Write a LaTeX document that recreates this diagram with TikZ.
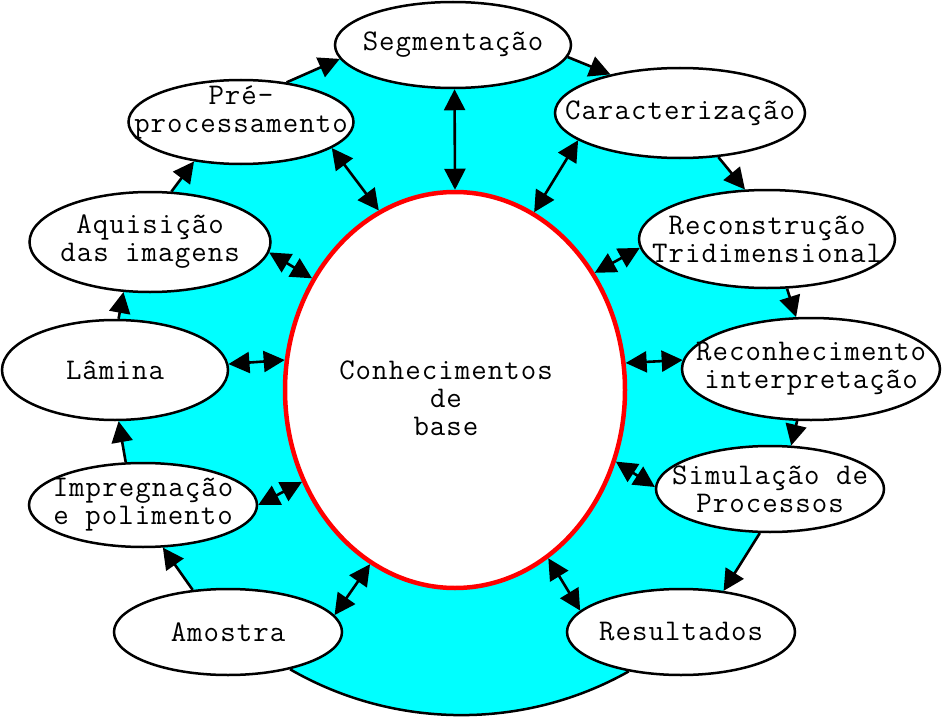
\documentclass[tikz,border=0pt]{standalone}
\usepackage{fontspec}
\newfontfamily\mono[LetterSpace=3.5]{Latin Modern Mono}
\usetikzlibrary{shapes.geometric,arrows.meta,backgrounds}
\definecolor{cyanfill}{RGB}{0,255,255}
\tikzset{
  oval/.style={ellipse, draw=black, line width=2.5pt, fill=white, inner sep=0pt},
  txt/.style={font=\mono\fontsize{30}{28}\selectfont, align=center, inner sep=0pt},
  flow/.style={line width=2.6pt, -{Triangle[length=21pt,width=21pt]}},
  link/.style={line width=2.6pt, {Triangle[length=21pt,width=21pt]}-{Triangle[length=21pt,width=21pt]}},
}
\begin{document}
\begin{tikzpicture}[x=1pt,y=-1pt]
\useasboundingbox (0,0) rectangle (943,717);
% central knowledge node
\node[ellipse, draw=red, fill=white, line width=4.5pt, inner sep=0pt,
      minimum width=340pt, minimum height=396pt] (kb) at (455,390) {};
\node[txt] (kbt) at (446,398) {Conhecimentos\\de\\base};
% outer stages
\node[oval, minimum width=236pt, minimum height=86pt, label={[txt]center:Segmentação}] (seg) at (453,45) {};
\node[oval, minimum width=225pt, minimum height=84pt, label={[txt,yshift=10pt]center:Pré-\\processamento}] (pre) at (241,122) {};
\node[oval, minimum width=241pt, minimum height=100pt, label={[txt]center:Aquisição\\das imagens}] (aqu) at (150,242) {};
\node[oval, minimum width=226pt, minimum height=100pt, label={[txt]center:Lâmina}] (lam) at (115,370) {};
\node[oval, minimum width=228pt, minimum height=84pt, label={[txt]center:Impregnação\\e polimento}] (imp) at (143,505) {};
\node[oval, minimum width=228pt, minimum height=86pt, label={[txt]center:Amostra}] (amo) at (228,632) {};
\node[oval, minimum width=228pt, minimum height=86pt, label={[txt]center:Resultados}] (res) at (681,632) {};
\node[oval, minimum width=228pt, minimum height=86pt, label={[txt]center:Simulação de\\Processos}] (sim) at (770,489) {};
\node[oval, minimum width=258pt, minimum height=102pt, label={[txt]center:Reconhecimento\\interpretação}] (rec) at (811,369) {};
\node[oval, minimum width=256pt, minimum height=98pt, label={[txt]center:Reconstrução\\Tridimensional}] (r3d) at (767,239) {};
\node[oval, minimum width=250pt, minimum height=90pt, label={[txt]center:Caracterização}] (car) at (680,113) {};
% cyan ring behind everything
\begin{scope}[on background layer]
\fill[cyanfill] (amo.130.6) -- (imp.-65) -- (imp.112.7) -- (lam.-86.6) -- (lam.86.6)
  -- (aqu.-118.4) -- (aqu.67.8) -- (pre.-140.2) -- (pre.41) -- (seg.-173.4)
  -- (seg.-6.5) -- (car.151.5) -- (car.-49.8) -- (r3d.114.6) -- (r3d.-68.6)
  -- (rec.106) -- (rec.-105.4) -- (sim.64) -- (sim.-103) -- (res.44.3)
  -- (res.-143.3) .. controls (525,730) and (395,730) .. (amo.-31.5) -- cycle;
\draw[line width=2.5pt] (res.-143.3) .. controls (525,730) and (395,730) .. (amo.-31.5);
\end{scope}
% process flow
\draw[flow] (amo.130.6) -- (imp.-65);
\draw[flow] (imp.112.7) -- (lam.-86.6);
\draw[flow] (lam.86.6) -- (aqu.-118.4);
\draw[flow] (aqu.67.8) -- (pre.-140.2);
\draw[flow] (pre.41) -- (seg.-173.4);
\draw[flow] (seg.-6.5) -- (car.151.5);
\draw[flow] (car.-49.8) -- (r3d.114.6);
\draw[flow] (r3d.-68.6) -- (rec.106);
\draw[flow] (rec.-105.4) -- (sim.64);
\draw[flow] (sim.-103) -- (res.44.3);
% links with knowledge base
\draw[link] (seg.-88) -- (kb.90);
\draw[link] (pre.-16.6) -- (kb.113.8);
\draw[link] (aqu.-5.2) -- (kb.142.2);
\draw[link] (lam.3.5) -- (kb.170.9);
\draw[link] (imp.0) -- (kb.-149.1);
\draw[link] (amo.9.1) -- (kb.-116.4);
\draw[link] (res.168.8) -- (kb.-61.6);
\draw[link] (sim.179.5) -- (kb.-24.5);
\draw[link] (rec.176.9) -- (kb.9.5);
\draw[link] (r3d.-176.4) -- (kb.40);
\draw[link] (car.-165.6) -- (kb.66.8);
\end{tikzpicture}
\end{document}
